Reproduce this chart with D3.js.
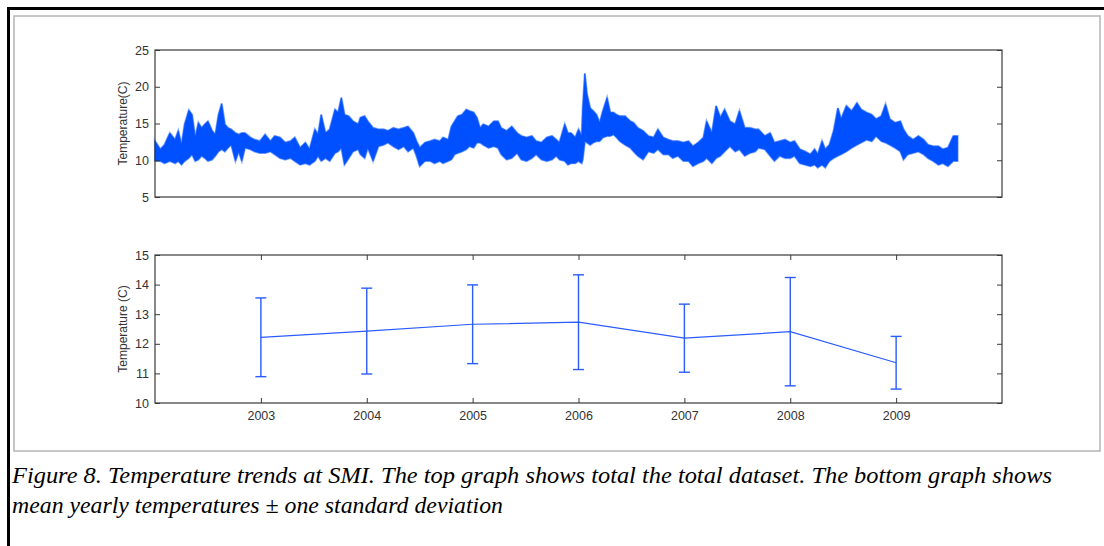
<!DOCTYPE html>
<html>
<head>
<meta charset="utf-8">
<script src="https://cdn.jsdelivr.net/npm/d3@7"></script>
<style>
body { margin: 0; background: #fff; }
svg text { font-family: "Liberation Sans", Arial, sans-serif; }
</style>
</head>
<body>
<div id="chart-area"></div>
<script>
const seriesTime = [
  2002.00,2002.05,2002.09,2002.14,2002.19,2002.22,2002.25,2002.28,2002.32,2002.35,
  2002.38,2002.41,2002.44,2002.47,2002.50,2002.54,2002.57,2002.60,2002.63,2002.66,
  2002.69,2002.72,2002.76,2002.79,2002.82,2002.85,2002.90,2002.94,2002.99,2003.04,
  2003.09,2003.13,2003.18,2003.23,2003.28,2003.32,2003.37,2003.42,2003.46,2003.51,
  2003.54,2003.57,2003.61,2003.65,2003.70,2003.73,2003.76,2003.79,2003.83,2003.87,
  2003.92,2003.94,2003.98,2004.01,2004.06,2004.11,2004.16,2004.20,2004.25,2004.30,
  2004.35,2004.39,2004.44,2004.47,2004.50,2004.55,2004.60,2004.64,2004.69,2004.72,
  2004.77,2004.80,2004.83,2004.86,2004.90,2004.94,2004.97,2005.01,2005.04,2005.07,
  2005.10,2005.15,2005.20,2005.24,2005.27,2005.32,2005.37,2005.42,2005.46,2005.51,
  2005.56,2005.60,2005.65,2005.70,2005.75,2005.79,2005.82,2005.87,2005.90,2005.93,
  2005.97,2006.00,2006.03,2006.04,2006.06,2006.08,2006.11,2006.14,2006.17,2006.20,
  2006.23,2006.27,2006.30,2006.33,2006.36,2006.39,2006.44,2006.49,2006.52,2006.56,
  2006.61,2006.66,2006.71,2006.75,2006.80,2006.85,2006.89,2006.94,2006.99,2007.04,
  2007.08,2007.13,2007.18,2007.21,2007.26,2007.30,2007.34,2007.38,2007.43,2007.48,
  2007.52,2007.57,2007.62,2007.67,2007.70,2007.76,2007.81,2007.85,2007.90,2007.95,
  2008.00,2008.04,2008.09,2008.14,2008.19,2008.23,2008.26,2008.30,2008.33,2008.37,
  2008.41,2008.45,2008.48,2008.53,2008.58,2008.63,2008.67,2008.72,2008.77,2008.81,
  2008.86,2008.90,2008.94,2008.99,2009.04,2009.07,2009.11,2009.16,2009.21,2009.26,
  2009.30,2009.35,2009.40,2009.44,2009.49,2009.54,2009.58
];
const seriesHigh = [
  12.6,11.5,12.1,13.7,12.8,14.0,12.1,14.9,16.8,16.2,
  13.1,15.1,14.4,14.9,15.3,14.0,13.5,16.2,17.7,14.9,
  14.4,14.2,13.7,13.5,13.7,13.7,13.1,12.8,12.6,13.5,
  12.6,13.3,13.1,12.4,12.6,13.1,11.7,12.4,11.5,14.2,
  13.5,16.2,13.7,14.2,16.9,16.5,18.5,16.2,16.0,15.3,
  14.9,15.8,16.0,15.3,14.4,14.2,14.2,14.0,14.4,14.2,
  14.4,14.6,13.7,12.6,11.7,12.4,12.6,12.8,12.6,13.1,
  12.8,14.6,15.3,16.0,16.2,16.9,16.7,16.5,15.8,14.4,
  14.9,14.6,15.3,15.3,14.4,14.0,14.6,13.7,13.3,13.1,
  13.3,12.6,12.4,13.1,13.3,12.8,12.4,14.9,13.7,13.7,
  13.1,14.2,13.3,17.1,21.8,19.0,17.1,16.7,16.2,15.1,
  16.7,18.5,16.5,16.5,16.2,16.0,16.0,15.3,15.1,14.4,
  14.0,13.3,13.1,14.2,13.1,12.8,12.6,12.6,12.4,12.6,
  11.9,12.4,13.1,15.3,13.7,17.4,15.8,16.9,15.3,14.9,
  16.7,14.4,14.4,14.2,14.2,13.3,13.7,12.4,12.6,12.8,
  12.4,12.6,11.5,11.2,10.8,11.5,10.8,12.6,11.5,12.1,
  14.0,17.1,15.6,17.4,16.7,17.8,16.9,16.5,16.2,15.6,
  16.0,17.6,15.6,15.1,15.3,14.2,13.3,12.8,13.3,12.8,
  12.1,11.9,11.9,11.5,11.7,13.3,13.3
];
const seriesLow = [
  9.9,9.9,9.6,9.9,9.6,9.9,9.4,9.9,10.3,10.8,
  9.9,10.1,10.6,10.3,9.9,10.1,10.6,11.2,11.5,11.2,
  11.7,12.1,9.9,11.2,9.9,11.7,11.5,11.2,11.0,11.0,
  11.2,10.8,10.3,10.1,10.3,9.9,9.4,9.6,9.4,9.9,
  10.6,9.9,10.3,9.9,11.0,11.2,11.7,9.4,10.3,11.2,
  11.5,10.8,10.3,11.7,9.9,11.9,12.1,12.4,11.9,11.5,
  11.9,11.2,11.7,10.6,9.2,9.9,9.9,9.6,9.9,9.6,
  9.9,10.1,10.8,11.0,11.2,11.5,11.9,11.7,12.4,12.4,
  12.1,11.7,11.9,11.7,10.8,10.1,10.3,11.0,10.1,9.9,
  10.3,10.8,10.1,9.9,10.1,10.6,10.1,9.9,9.4,9.6,
  9.6,9.9,9.6,10.1,12.6,12.4,12.1,12.4,12.6,12.6,
  13.1,13.3,13.3,13.5,13.1,12.6,12.1,11.7,11.2,10.6,
  10.1,11.2,11.0,11.5,10.8,10.8,10.3,10.6,9.9,9.9,
  9.2,9.6,9.9,10.3,9.6,10.3,10.6,11.2,11.9,11.2,
  11.5,10.6,11.0,11.2,11.7,11.5,10.6,9.9,10.6,10.3,
  10.3,10.6,9.6,9.4,9.2,9.4,9.0,9.4,9.0,9.9,
  10.3,10.6,10.8,11.2,11.7,12.1,12.4,12.8,12.6,13.3,
  12.6,12.4,12.1,11.7,11.2,10.1,10.8,11.0,11.2,10.8,
  10.3,9.9,9.4,9.6,9.2,9.9,9.9
];

// yearly means and standard deviations
const years = [2003, 2004, 2005, 2006, 2007, 2008, 2009];
const yearMeans = [12.22, 12.43, 12.66, 12.73, 12.19, 12.41, 11.36];
const yearStd = [1.33, 1.45, 1.33, 1.60, 1.15, 1.83, 0.89];

const topTicks = [5, 10, 15, 20, 25];
const bottomTicks = [10, 11, 12, 13, 14, 15];

const captionLines = [
  "Figure 8. Temperature trends at SMI. The top graph shows total the total dataset. The bottom graph shows",
  "mean yearly temperatures \u00b1 one standard deviation"
];

const config = {
  width: 1104,
  height: 546,
  left: 155,
  right: 1002,
  top1: 50, bottom1: 197,
  top2: 255, bottom2: 403,
  axisColor: "#3a3a3a",
  lineColor: "#0050ff"
};

const svg = d3.select("#chart-area")
  .append("svg")
  .attr("width", config.width)
  .attr("height", config.height)
  .style("display", "block");

svg.append("rect")
  .attr("width", config.width)
  .attr("height", config.height)
  .attr("fill", "#fff");

// page frame
svg.append("line").attr("x1", 7).attr("x2", config.width).attr("y1", 8.5).attr("y2", 8.5)
  .attr("stroke", "#000").attr("stroke-width", 3);
svg.append("line").attr("x1", 8.5).attr("x2", 8.5).attr("y1", 7).attr("y2", config.height)
  .attr("stroke", "#000").attr("stroke-width", 3);
svg.append("rect")
  .attr("x", 14).attr("y", 16).attr("width", 1086).attr("height", 435)
  .attr("fill", "none").attr("stroke", "#b4b4b4").attr("stroke-width", 1.5);

const xScale = d3.scaleLinear().domain([2002, 2010]).range([config.left, config.right]);
const yTop = d3.scaleLinear().domain([5, 25]).range([config.bottom1, config.top1]);
const yBottom = d3.scaleLinear().domain([10, 15]).range([config.bottom2, config.top2]);

function styleAxis(g) {
  g.select(".domain").remove();
  g.selectAll(".tick line").attr("stroke", config.axisColor);
  g.selectAll("text")
    .attr("fill", "#333")
    .style("font-size", "12.5px")
    .style("font-family", "'Liberation Sans', Arial, sans-serif");
}

function frame(top, bottom) {
  svg.append("rect")
    .attr("x", config.left).attr("y", top)
    .attr("width", config.right - config.left)
    .attr("height", bottom - top)
    .attr("fill", "none")
    .attr("stroke", config.axisColor)
    .attr("stroke-width", 1.2);
}

// ---- top panel ----
const area = d3.area()
  .x((d, i) => xScale(seriesTime[i]))
  .y0((d, i) => yTop(seriesLow[i]))
  .y1((d, i) => yTop(seriesHigh[i]));

// soft halo like the anti-aliased spikes of the original
svg.append("path")
  .datum(seriesTime)
  .attr("d", area)
  .attr("fill", "none")
  .attr("stroke", "rgba(0,80,255,0.45)")
  .attr("stroke-width", 2.2)
  .attr("stroke-linejoin", "miter");

svg.append("path")
  .datum(seriesTime)
  .attr("d", area)
  .attr("fill", config.lineColor)
  .attr("stroke", config.lineColor)
  .attr("stroke-width", 0.7)
  .attr("stroke-linejoin", "miter");

svg.append("g")
  .attr("transform", `translate(${config.left},0)`)
  .call(d3.axisLeft(yTop).tickValues(topTicks).tickSize(-5).tickPadding(6).tickFormat(d3.format("d")))
  .call(styleAxis);
svg.append("g")
  .attr("transform", `translate(${config.right},0)`)
  .call(d3.axisRight(yTop).tickValues(topTicks).tickSize(-5).tickFormat(""))
  .call(styleAxis);
frame(config.top1, config.bottom1);

svg.append("text")
  .attr("transform", `translate(127, ${(config.top1 + config.bottom1) / 2}) rotate(-90)`)
  .attr("text-anchor", "middle")
  .attr("fill", "#333")
  .style("font-size", "12px")
  .text("Temperature(C)");

// ---- bottom panel ----
const meanLine = d3.line()
  .x((d, i) => xScale(years[i]))
  .y((d, i) => yBottom(yearMeans[i]));

svg.append("path")
  .datum(years)
  .attr("d", meanLine)
  .attr("fill", "none")
  .attr("stroke", "#2a5cff")
  .attr("stroke-width", 1.2);

const bars = svg.selectAll(".errbar")
  .data(years)
  .enter().append("g")
  .attr("class", "errbar")
  .attr("stroke", "#2a5cff")
  .attr("stroke-width", 1.4);

bars.append("line")
  .attr("x1", d => xScale(d)).attr("x2", d => xScale(d))
  .attr("y1", (d, i) => yBottom(yearMeans[i] + yearStd[i]))
  .attr("y2", (d, i) => yBottom(yearMeans[i] - yearStd[i]));
bars.append("line")
  .attr("x1", d => xScale(d) - 5.5).attr("x2", d => xScale(d) + 5.5)
  .attr("y1", (d, i) => yBottom(yearMeans[i] + yearStd[i]))
  .attr("y2", (d, i) => yBottom(yearMeans[i] + yearStd[i]));
bars.append("line")
  .attr("x1", d => xScale(d) - 5.5).attr("x2", d => xScale(d) + 5.5)
  .attr("y1", (d, i) => yBottom(yearMeans[i] - yearStd[i]))
  .attr("y2", (d, i) => yBottom(yearMeans[i] - yearStd[i]));

svg.append("g")
  .attr("transform", `translate(${config.left},0)`)
  .call(d3.axisLeft(yBottom).tickValues(bottomTicks).tickSize(-5).tickPadding(6).tickFormat(d3.format("d")))
  .call(styleAxis);
svg.append("g")
  .attr("transform", `translate(${config.right},0)`)
  .call(d3.axisRight(yBottom).tickValues(bottomTicks).tickSize(-5).tickFormat(""))
  .call(styleAxis);
svg.append("g")
  .attr("transform", `translate(0,${config.bottom2})`)
  .call(d3.axisBottom(xScale).tickValues(years).tickSize(-5).tickPadding(8).tickFormat(d3.format("d")))
  .call(styleAxis);
svg.append("g")
  .attr("transform", `translate(0,${config.top2})`)
  .call(d3.axisTop(xScale).tickValues(years).tickSize(-5).tickFormat(""))
  .call(styleAxis);
frame(config.top2, config.bottom2);

svg.append("text")
  .attr("transform", `translate(127, ${(config.top2 + config.bottom2) / 2}) rotate(-90)`)
  .attr("text-anchor", "middle")
  .attr("fill", "#333")
  .style("font-size", "12px")
  .text("Temperature (C)");

// ---- caption ----
const captionWidths = [1040, 491];
svg.selectAll(".caption")
  .data(captionLines)
  .enter().append("text")
  .attr("class", "caption")
  .attr("x", 12)
  .attr("y", (d, i) => 483 + i * 30)
  .attr("textLength", (d, i) => captionWidths[i])
  .attr("lengthAdjust", "spacingAndGlyphs")
  .attr("fill", "#000")
  .style("font-family", "'Liberation Serif', 'DejaVu Serif', serif")
  .style("font-style", "italic")
  .style("font-size", "24px")
  .text(d => d);
</script>
</body>
</html>
